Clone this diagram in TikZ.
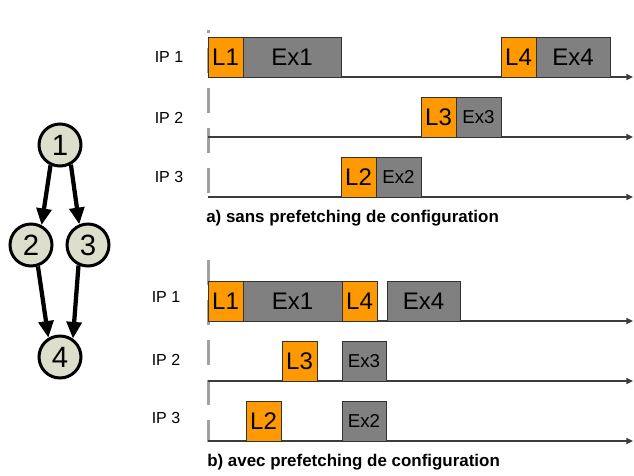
\documentclass[tikz,border=0pt]{standalone}
\usepackage{fontspec}
\setmainfont{Liberation Sans}
\usetikzlibrary{arrows.meta, positioning}

\definecolor{loadorange}{RGB}{255,153,0}
\definecolor{execgray}{RGB}{128,128,128}
\definecolor{taskfill}{RGB}{221,223,204}
\definecolor{axisgray}{RGB}{60,60,60}
\definecolor{markgray}{RGB}{160,160,160}

\begin{document}
\begin{tikzpicture}[x=0.75pt, y=-0.75pt,
    task/.style={circle, draw=black, line width=2.25pt, fill=taskfill, minimum size=31.5pt, inner sep=0pt, font=\fontsize{22}{22}\selectfont},
    dep/.style={line width=3.2pt, -{Triangle[length=12.5pt, width=11pt]}},
    load/.style={draw=black!80, fill=loadorange, line width=0.75pt, minimum width=26.25pt, minimum height=30pt, inner sep=0pt, outer sep=0pt, anchor=south west, font=\fontsize{18}{18}\selectfont},
    exec/.style={load, fill=execgray},
    smallexec/.style={exec, minimum width=33.75pt, font=\fontsize{14}{14}\selectfont},
    timeaxis/.style={draw=axisgray, line width=1.5pt, -{Triangle[length=5pt, width=4.5pt]}},
    marker/.style={draw=markgray, line width=2.25pt, dash pattern=on 18.75pt off 11.25pt},
    iplabel/.style={font=\fontsize{12}{12}\selectfont},
    caption/.style={anchor=west, inner sep=0pt, font=\bfseries\fontsize{12.7}{12.7}\selectfont}]
    \useasboundingbox (0,0) rectangle (634,475);

    % task graph
    \node[task] (t1) at (60,145) {1};
    \node[task] (t2) at (31,245) {2};
    \node[task] (t3) at (88,245) {3};
    \node[task] (t4) at (60,357) {4};
    \draw[dep] (t1.245) -- (t2.62);
    \draw[dep] (t1.299) -- (t3.113);
    \draw[dep] (t2.288) -- (t4.121);
    \draw[dep] (t3.245) -- (t4.55);

    % a) sans prefetching
    \draw[marker, dash phase=16.5pt] (208,30) -- (208,197);
    \coordinate (a1s) at (208,77);  \coordinate (a1e) at (633,77);
    \coordinate (a2s) at (208,137); \coordinate (a2e) at (633,137);
    \coordinate (a3s) at (208,197); \coordinate (a3e) at (633,197);
    \draw[timeaxis] (a1s) -- (a1e);
    \draw[timeaxis] (a2s) -- (a2e);
    \draw[timeaxis] (a3s) -- (a3e);
    \node[iplabel] (ipa1) at (169,57) {IP 1};
    \node[iplabel] (ipa2) at (169,118) {IP 2};
    \node[iplabel] (ipa3) at (169,177) {IP 3};
    \node[load] (aL1) at (a1s) {L1};
    \node[exec, minimum width=73.5pt, right=0pt of aL1] (aEx1) {Ex1};
    \node[load] (aL4) at (501,77) {L4};
    \node[exec, minimum width=55.5pt, right=0pt of aL4] (aEx4) {Ex4};
    \node[load] (aL3) at (421,137) {L3};
    \node[smallexec, right=0pt of aL3] (aEx3) {Ex3};
    \node[load] (aL2) at (341,197) {L2};
    \node[smallexec, right=0pt of aL2] (aEx2) {Ex2};
    \node[caption] (capa) at (206,218) {a) sans prefetching de configuration};

    % b) avec prefetching
    \draw[marker] (208,260) -- (208,442);
    \coordinate (b1s) at (208,321); \coordinate (b1e) at (633,321);
    \coordinate (b2s) at (208,381); \coordinate (b2e) at (633,381);
    \coordinate (b3s) at (208,441); \coordinate (b3e) at (633,441);
    \draw[timeaxis] (b1s) -- (b1e);
    \draw[timeaxis] (b2s) -- (b2e);
    \draw[timeaxis] (b3s) -- (b3e);
    \node[iplabel] (ipb1) at (166,297) {IP 1};
    \node[iplabel] (ipb2) at (166,360) {IP 2};
    \node[iplabel] (ipb3) at (166,418) {IP 3};
    \node[load] (bL1) at (b1s) {L1};
    \node[exec, minimum width=74.25pt, right=0pt of bL1] (bEx1) {Ex1};
    \node[load, right=0pt of bEx1] (bL4) {L4};
    \node[exec, minimum width=54.75pt] (bEx4) at (387,321) {Ex4};
    \node[load] (bL3) at (282,381) {L3};
    \node[smallexec, minimum width=33pt] (bEx3) at (342,381) {Ex3};
    \node[load] (bL2) at (246,441) {L2};
    \node[smallexec, minimum width=33pt] (bEx2) at (342,441) {Ex2};
    \node[caption] (capb) at (207,462) {b) avec prefetching de configuration};
\end{tikzpicture}
\end{document}
